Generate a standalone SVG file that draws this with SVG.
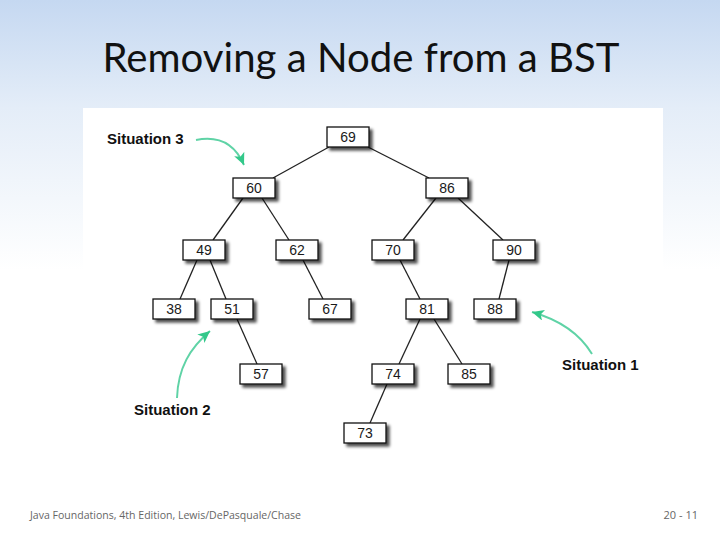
<svg xmlns="http://www.w3.org/2000/svg" width="720" height="540" viewBox="0 0 720 540">
<defs>
<linearGradient id="bg" x1="0" y1="0" x2="0" y2="1">
<stop offset="0" stop-color="#c5d8f1"/>
<stop offset="0.2" stop-color="#e4edf8"/>
<stop offset="0.5" stop-color="#ffffff"/>
<stop offset="1" stop-color="#ffffff"/>
</linearGradient>
<filter id="sh" x="-20%" y="-30%" width="150%" height="180%">
<feGaussianBlur in="SourceAlpha" stdDeviation="1.5"/>
<feOffset dx="3" dy="3" result="b"/>
<feComponentTransfer><feFuncA type="linear" slope="0.7"/></feComponentTransfer>
<feMerge><feMergeNode/><feMergeNode in="SourceGraphic"/></feMerge>
</filter>
<marker id="ah" markerUnits="userSpaceOnUse" markerWidth="13" markerHeight="11" refX="12" refY="5.5" orient="auto">
<path d="M0,0 L12,5.5 L0,11 L3,5.5 z" fill="#33c88a"/>
</marker>
<style>
.box{fill:#fff;stroke:#111;stroke-width:1.3}
.num{font-family:"Liberation Sans",Arial,sans-serif;font-size:14px;fill:#1a1a1a;text-anchor:middle}
.edge{stroke:#222;stroke-width:1.3;fill:none}
.lbl{font-family:"Liberation Sans",Arial,sans-serif;font-size:15px;font-weight:bold;fill:#111}
.arr{stroke:#5fd3a6;stroke-width:2;fill:none}
.foot{font-family:"Open Sans","Liberation Sans",sans-serif;font-size:11px;fill:#666}
</style>
</defs>
<rect x="0" y="0" width="720" height="540" fill="url(#bg)"/>
<rect x="83" y="108" width="580" height="345" fill="#fff"/>
<text x="361" y="72" font-family="Lato,'Open Sans',sans-serif" font-size="41" fill="#111" text-anchor="middle" textLength="517" lengthAdjust="spacingAndGlyphs">Removing a Node from a BST</text>
<g id="connectors">
<line class="edge" x1="329" y1="147" x2="273" y2="178"/>
<line class="edge" x1="368" y1="147" x2="429" y2="178"/>
<line class="edge" x1="243" y1="198" x2="213" y2="240"/>
<line class="edge" x1="262" y1="198" x2="289" y2="240"/>
<line class="edge" x1="436" y1="198" x2="403" y2="240"/>
<line class="edge" x1="458" y1="198" x2="503" y2="240"/>
<line class="edge" x1="197" y1="260" x2="180" y2="299"/>
<line class="edge" x1="210" y1="260" x2="226" y2="299"/>
<line class="edge" x1="303" y1="260" x2="323" y2="299"/>
<line class="edge" x1="400" y1="260" x2="420" y2="299"/>
<line class="edge" x1="509" y1="260" x2="499" y2="299"/>
<line class="edge" x1="237" y1="319" x2="257" y2="364"/>
<line class="edge" x1="420" y1="319" x2="399" y2="364"/>
<line class="edge" x1="434" y1="319" x2="462" y2="364"/>
<line class="edge" x1="387" y1="384" x2="370" y2="423"/>
</g>
<g id="n69"><rect class="box" x="327" y="127" width="42" height="20" filter="url(#sh)"/><text class="num" x="348" y="142">69</text></g>
<g id="n60"><rect class="box" x="233" y="178" width="42" height="20" filter="url(#sh)"/><text class="num" x="254" y="193">60</text></g>
<g id="n86"><rect class="box" x="426" y="178" width="42" height="20" filter="url(#sh)"/><text class="num" x="447" y="193">86</text></g>
<g id="n49"><rect class="box" x="183" y="240" width="42" height="20" filter="url(#sh)"/><text class="num" x="204" y="255">49</text></g>
<g id="n62"><rect class="box" x="276" y="240" width="42" height="20" filter="url(#sh)"/><text class="num" x="297" y="255">62</text></g>
<g id="n70"><rect class="box" x="372" y="240" width="42" height="20" filter="url(#sh)"/><text class="num" x="393" y="255">70</text></g>
<g id="n90"><rect class="box" x="493" y="240" width="42" height="20" filter="url(#sh)"/><text class="num" x="514" y="255">90</text></g>
<g id="n38"><rect class="box" x="153" y="299" width="42" height="20" filter="url(#sh)"/><text class="num" x="174" y="314">38</text></g>
<g id="n51"><rect class="box" x="211" y="299" width="42" height="20" filter="url(#sh)"/><text class="num" x="232" y="314">51</text></g>
<g id="n67"><rect class="box" x="309" y="299" width="42" height="20" filter="url(#sh)"/><text class="num" x="330" y="314">67</text></g>
<g id="n81"><rect class="box" x="406" y="299" width="42" height="20" filter="url(#sh)"/><text class="num" x="427" y="314">81</text></g>
<g id="n88"><rect class="box" x="474" y="299" width="42" height="20" filter="url(#sh)"/><text class="num" x="495" y="314">88</text></g>
<g id="n57"><rect class="box" x="240" y="364" width="42" height="20" filter="url(#sh)"/><text class="num" x="261" y="379">57</text></g>
<g id="n74"><rect class="box" x="372" y="364" width="42" height="20" filter="url(#sh)"/><text class="num" x="393" y="379">74</text></g>
<g id="n85"><rect class="box" x="448" y="364" width="42" height="20" filter="url(#sh)"/><text class="num" x="469" y="379">85</text></g>
<g id="n73"><rect class="box" x="344" y="423" width="42" height="20" filter="url(#sh)"/><text class="num" x="365" y="438">73</text></g>
<g id="situations">
<text class="lbl" x="107" y="144">Situation 3</text>
<path class="arr" d="M196,140 C216,136 234,142 244,165" marker-end="url(#ah)"/>
<text class="lbl" x="134" y="415">Situation 2</text>
<path class="arr" d="M177,398 C178,368 190,348 210,331" marker-end="url(#ah)"/>
<text class="lbl" x="562" y="370">Situation 1</text>
<path class="arr" d="M592,354 C580,334 560,320 532,312" marker-end="url(#ah)"/>
</g>
<text class="foot" x="30" y="519" textLength="271" lengthAdjust="spacingAndGlyphs">Java Foundations, 4th Edition, Lewis/DePasquale/Chase</text>
<text class="foot" x="698" y="519" text-anchor="end">20 - 11</text>
</svg>
